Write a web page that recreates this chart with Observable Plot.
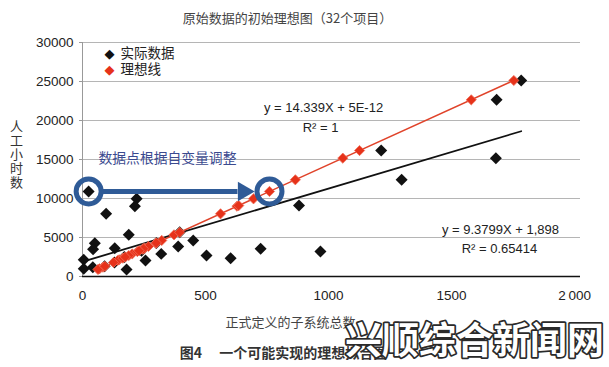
<!DOCTYPE html>
<html><head><meta charset="utf-8">
<script src="https://cdn.jsdelivr.net/npm/d3@7"></script>
<script src="https://cdn.jsdelivr.net/npm/@observablehq/plot@0.6"></script>
<style>body{margin:0;background:#fff} svg{display:block}</style>
</head><body><div id="chart"></div>
<script>
// Actual data (32 projects): subsystems vs man-hours
const actualX = [25, 96, 220, 213, 188, 50, 43, 131, 5, 5, 42, 179, 256, 320, 389, 450, 504, 602, 724, 880, 967, 1214, 1297, 1783, 1683, 1680, 90, 130, 170, 240, 300, 395];
const actualY = [10900, 8040, 9960, 9010, 5340, 4270, 3500, 3630, 2140, 990, 1190, 900, 2050, 2900, 3850, 4620, 2690, 2350, 3550, 9100, 3200, 16150, 12400, 25130, 22650, 15170, 1300, 1800, 2500, 3300, 4300, 5660];
// Ideal points: same man-hours, independent variable adjusted onto ideal line
const idealX = [760, 561, 695, 628, 372, 298, 244, 253, 149, 69, 83, 63, 143, 202, 268, 322, 188, 164, 248, 635, 223, 1126, 865, 1753, 1580, 1058, 91, 126, 174, 230, 300, 395];
const idealY = actualY;

const yTicks = [0, 5000, 10000, 15000, 20000, 25000, 30000];
const yTickLabels = ["0", "5000", "10000", "15000", "20000", "25000", "30000"];
const xTicks = [0, 500, 1000, 1500, 2000];
const xTickLabels = ["0", "500", "1000", "1500", "2\u2009000"];

const fitNames = ["实际数据", "理想线"];
const fitSlopes = [9.3799, 14.339];
const fitIntercepts = [1898, 5e-12];
const eqTexts = ["y = 9.3799X + 1,898", "R² = 0.65414", "y = 14.339X + 5E-12", "R² = 1"];

const titleText = "原始数据的初始理想图（32个项目）";
const xLabel = "正式定义的子系统总数";
const yLabel = "人\n工\n小\n时\n数";
const noteText = "数据点根据自变量调整";
const captionText = "图4\u2003 一个可能实现的理想拟合图";
const watermark = "兴顺综合新闻网";

const FONT = '"Liberation Sans", Arial, "Noto Sans CJK SC", sans-serif';
const CJK = '"Noto Sans CJK SC", sans-serif';

const actual = actualX.map((x, i) => ({x, y: actualY[i]}));
const ideal = idealX.map((x, i) => ({x, y: idealY[i]}));
const moved = [{x1: actualX[0], x2: idealX[0], y: actualY[0]}];

const actExt = d3.extent(actualX);
const idExt = d3.extent(idealX);
const blackLine = actExt.map(x => ({x, y: fitSlopes[0] * x + fitIntercepts[0]}));
const redLine = idExt.map(x => ({x, y: fitSlopes[1] * x + fitIntercepts[1]}));

const BLUE = "#2f5b97";
const RED = "#e6321a";

const t = (text, opts) => Plot.text([text], {text: d => d, frameAnchor: "top-left", lineAnchor: "middle", fontFamily: FONT, fontSize: 13, fill: "#333", ...opts});

const chart = Plot.plot({
  width: 609, height: 367,
  marginLeft: 82, marginRight: 29, marginTop: 42, marginBottom: 91,
  style: {fontFamily: FONT, fontSize: "13.5px", color: "#222", background: "#fff"},
  x: {domain: [0, 2024]},
  y: {domain: [0, 30000]},
  marks: [
    Plot.gridY(yTicks.filter(d => d > 0), {stroke: "#b5b5b5", strokeOpacity: 1}),
    Plot.ruleX([0], {stroke: "#999"}),
    Plot.axisY(yTicks, {tickSize: 3, tickPadding: 6, stroke: "#999", fill: "#222", fontSize: 13.5, tickFormat: d => yTickLabels[yTicks.indexOf(d)], label: null}),
    Plot.axisX(xTicks, {tickSize: 0, tickPadding: 14, fill: "#222", fontSize: 13.5, tickFormat: d => xTickLabels[xTicks.indexOf(d)], label: null}),
    Plot.ruleY([0], {stroke: "#111", strokeWidth: 1.5}),
    Plot.dot(actual, {x: "x", y: "y", symbol: "diamond2", r: 5.4, fill: "#111", stroke: "none"}),
    Plot.line(blackLine, {x: "x", y: "y", stroke: "#111", strokeWidth: 1.8}),
    Plot.line(redLine, {x: "x", y: "y", stroke: "#e0432a", strokeWidth: 1.5}),
    Plot.dot(ideal, {x: "x", y: "y", symbol: "diamond2", r: 4.6, fill: RED, stroke: "#f0705a", strokeWidth: 0.8}),
    // adjustment highlight
    Plot.dot(moved, {x: "x1", y: "y", r: 12.5, stroke: BLUE, strokeWidth: 5, fill: "none"}),
    Plot.dot(moved, {x: "x2", y: "y", r: 12.5, stroke: BLUE, strokeWidth: 5, fill: "none"}),
    Plot.arrow(moved, {x1: "x1", x2: "x2", y1: "y", y2: "y", stroke: BLUE, strokeWidth: 5, headLength: 0, insetStart: 13, insetEnd: 32, strokeLinecap: "butt"}),
    Plot.dot(moved, {x: "x2", y: "y", symbol: "triangle", rotate: 90, r: 7.2, dx: -26, fill: BLUE, stroke: "none"}),
    // legend
    t("◆", {dx: 27, dy: 11, fill: "#111", fontSize: 13, textAnchor: "middle", fontFamily: '"DejaVu Sans", sans-serif'}),
    t(fitNames[0], {dx: 38, dy: 11, fontSize: 13.5, fill: "#222", fontFamily: CJK}),
    t("◆", {dx: 27, dy: 27, fill: RED, fontSize: 13, textAnchor: "middle", fontFamily: '"DejaVu Sans", sans-serif'}),
    t(fitNames[1], {dx: 38, dy: 27, fontSize: 13.5, fill: "#222", fontFamily: CJK}),
    // equations
    t(eqTexts[2], {dx: 241, dy: 65, textAnchor: "middle", fill: "#222"}),
    t(eqTexts[3], {dx: 238, dy: 85, textAnchor: "middle", fill: "#222"}),
    t(eqTexts[0], {dx: 418, dy: 187, textAnchor: "middle", fill: "#222"}),
    t(eqTexts[1], {dx: 417, dy: 206, textAnchor: "middle", fill: "#222"}),
    // note
    t(noteText, {dx: 16, dy: 116, textAnchor: "start", fill: "#3b4a8f", fontSize: 13.8, fontFamily: CJK}),
    // titles
    t(titleText, {dx: 205, dy: -24, textAnchor: "middle", fill: "#444", fontSize: 13, fontFamily: CJK}),
    t(yLabel, {dx: -66, dy: 112, textAnchor: "middle", fill: "#333", fontSize: 13, lineHeight: 1.08, fontFamily: CJK}),
    t(xLabel, {dx: 208, dy: 280, textAnchor: "middle", fill: "#444", fontSize: 13, fontFamily: CJK}),
    t(captionText, {dx: 201, dy: 311, textAnchor: "middle", fill: "#333", fontSize: 14, fontWeight: "bold", fontFamily: CJK}),
    t(watermark, {dx: 392, dy: 300, textAnchor: "middle", fill: "#fff", stroke: "#2a2a2a", strokeWidth: 3.5, fontSize: 37, fontWeight: "bold", fontFamily: CJK})
  ]
});
document.getElementById("chart").appendChild(chart);
</script>
</body></html>
